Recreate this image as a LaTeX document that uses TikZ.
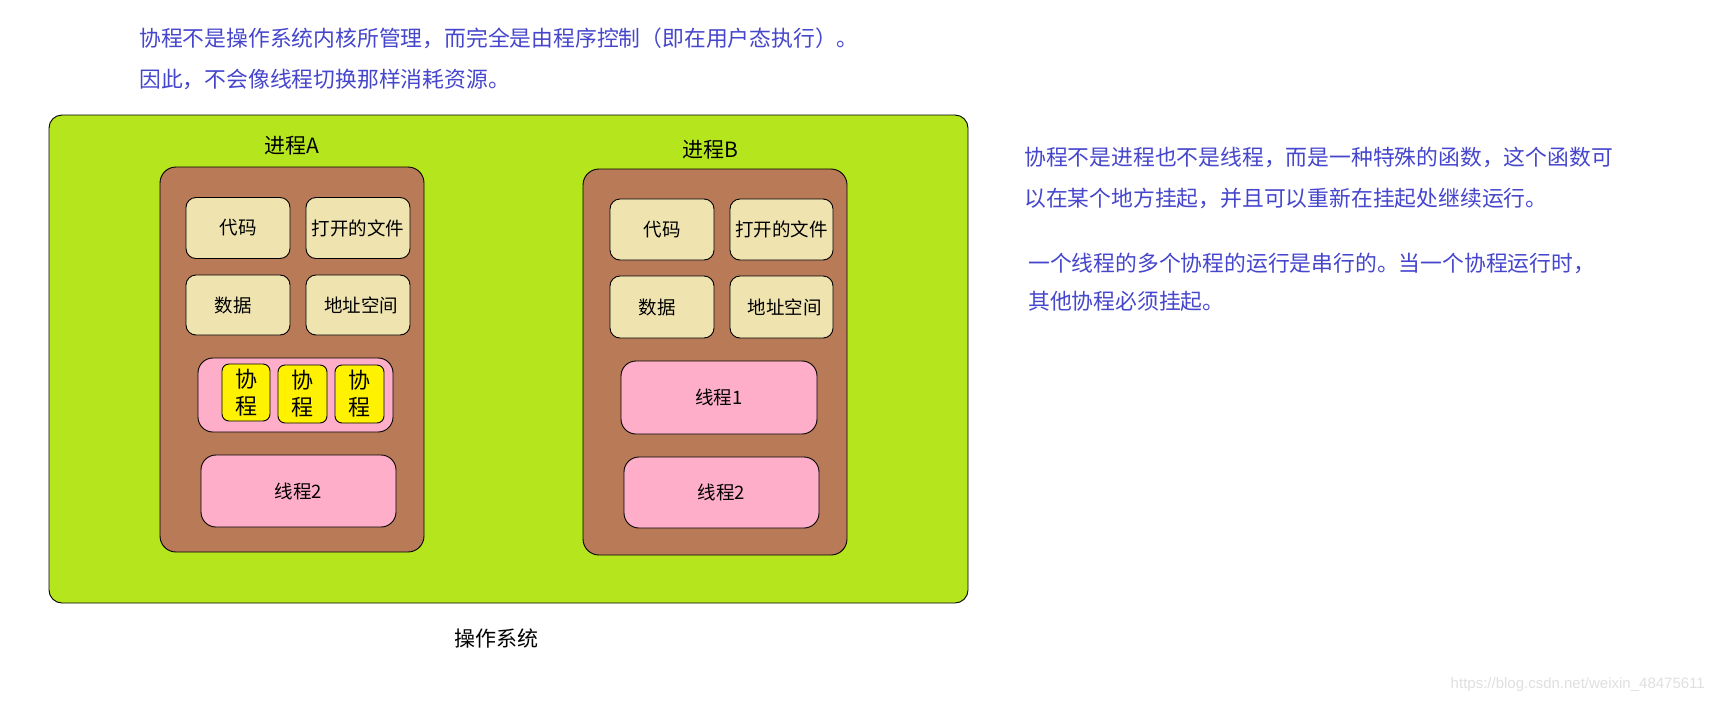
\documentclass[tikz,border=0pt]{standalone}
\usepackage{fontspec}
\setmainfont{Noto Sans CJK SC}
\newfontfamily\latinsans{Liberation Sans}
\definecolor{osgreen}{RGB}{181,230,29}
\definecolor{procbrown}{RGB}{185,122,87}
\definecolor{resbeige}{RGB}{239,228,176}
\definecolor{thrpink}{RGB}{255,174,201}
\definecolor{coyellow}{RGB}{255,242,0}
\definecolor{notecol}{RGB}{70,70,205}
\tikzset{
  panel/.style={draw=black, line width=0.9pt, rounded corners=#1},
  resbox/.style={draw=black, line width=0.9pt, fill=resbeige, rounded corners=10pt, inner sep=0pt,
    font=\fontsize{18.5}{22}\selectfont},
  thrbox/.style={draw=black, line width=0.9pt, fill=thrpink, rounded corners=15pt, inner sep=0pt,
    font=\fontsize{18.5}{22}\selectfont},
  cobox/.style={draw=black, line width=0.9pt, fill=coyellow, rounded corners=7pt, inner sep=0pt,
    align=center, font=\fontsize{22}{27}\selectfont},
  note/.style={anchor=west, inner sep=0pt, text=notecol, font=\fontsize{21.8}{26}\selectfont},
  title/.style={inner sep=0pt, font=\fontsize{21}{25}\selectfont},
}
\begin{document}
\begin{tikzpicture}[x=1pt,y=-1pt]
\useasboundingbox[fill=white] (0,0) rectangle (1713,702);

% top notes
\node[note] (t1) at (139,38) {协程不是操作系统内核所管理，而完全是由程序控制（即在用户态执行）。};
\node[note] (t2) at (139,79) {因此，不会像线程切换那样消耗资源。};

% operating system
\node[panel=13pt, fill=osgreen, minimum width=919pt, minimum height=488pt, inner sep=0pt] (os) at (508.5,359) {};
\node[title] (oslabel) at (496,638) {操作系统};

% process A
\node[title] (pAlabel) at (292,146) {进程A};
\node[panel=16pt, fill=procbrown, minimum width=264pt, minimum height=385pt, inner sep=0pt] (pA) at (292,359.5) {};
\node[resbox, minimum width=104pt, minimum height=61pt] (a1) at (238,228) {代码};
\node[resbox, minimum width=104pt, minimum height=61pt] (a2) at (358,228) {打开的文件};
\node[resbox, minimum width=104pt, minimum height=60pt] (a3) at (238,305) {\raisebox{-3pt}{\hspace*{-10pt}数据}};
\node[resbox, minimum width=104pt, minimum height=60pt] (a4) at (358,305) {\hspace*{6pt}地址空间};
\node[thrbox, minimum width=195pt, minimum height=74pt] (a5) at (295.5,395) {};
\node[cobox, minimum width=48pt, minimum height=57pt] (c1) at (246,392.5) {协\\程};
\node[cobox, minimum width=49pt, minimum height=58pt] (c2) at (302.5,394) {协\\程};
\node[cobox, minimum width=49pt, minimum height=58pt] (c3) at (359.5,394) {协\\程};
\node[thrbox, minimum width=195pt, minimum height=72pt] (a6) at (298.5,491) {线程2};

% process B
\node[title] (pBlabel) at (710,150) {进程B};
\node[panel=16pt, fill=procbrown, minimum width=264pt, minimum height=386pt, inner sep=0pt] (pB) at (715,362) {};
\node[resbox, minimum width=104pt, minimum height=61pt] (b1) at (662,229.5) {代码};
\node[resbox, minimum width=103pt, minimum height=61pt] (b2) at (781.5,229.5) {打开的文件};
\node[resbox, minimum width=104pt, minimum height=62pt] (b3) at (662,307) {\raisebox{-3pt}{\hspace*{-10pt}数据}};
\node[resbox, minimum width=103pt, minimum height=62pt] (b4) at (781.5,307) {\hspace*{6pt}地址空间};
\node[thrbox, minimum width=196pt, minimum height=73pt] (b5) at (719,397.5) {线程1};
\node[thrbox, minimum width=195pt, minimum height=71pt] (b6) at (721.5,492.5) {线程2};

% right notes
\node[note] (r1) at (1024,157) {协程不是进程也不是线程，而是一种特殊的函数，这个函数可};
\node[note] (r2) at (1024,198) {以在某个地方挂起，并且可以重新在挂起处继续运行。};
\node[note] (r3) at (1028,263) {一个线程的多个协程的运行是串行的。当一个协程运行时，};
\node[note] (r4) at (1028,301) {其他协程必须挂起。};

% watermark
\node[anchor=east, inner sep=0pt, text=black!12, font=\latinsans\fontsize{15}{18}\selectfont] (wm) at (1705,685) {https://blog.csdn.net/weixin\_48475611};
\end{tikzpicture}
\end{document}
